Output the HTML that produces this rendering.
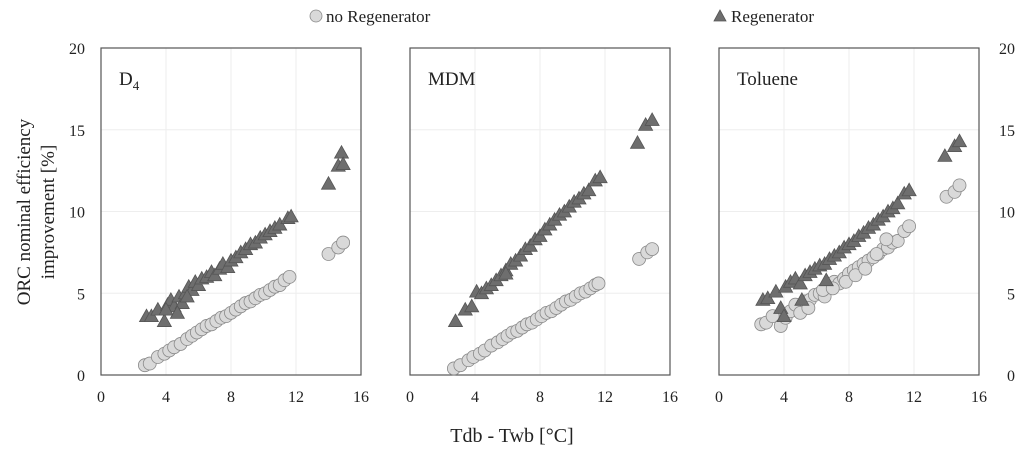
<!DOCTYPE html>
<html><head><meta charset="utf-8">
<style>
body{margin:0;background:#fff;width:1024px;height:450px;overflow:hidden;font-family:"Liberation Serif",serif;position:relative}
svg{display:block}
text{font-family:"Liberation Serif",serif;fill:#222}
</style></head>
<body>
<svg id="chart" width="1024" height="450" viewBox="0 0 1024 450"></svg>
<script>
const xTicks=[0,4,8,12,16];
const yTicks=[0,5,10,15,20];
const panelNames=["D4","MDM","Toluene"];
const d4NoRegX=[2.7,3.0,3.5,3.9,4.2,4.5,4.9,5.3,5.6,5.9,6.2,6.5,6.8,7.1,7.4,7.7,8.0,8.3,8.6,8.9,9.2,9.5,9.8,10.1,10.4,10.7,11.0,11.3,11.6,14.0,14.6,14.9];
const d4NoRegY=[0.6,0.7,1.1,1.3,1.5,1.7,1.9,2.2,2.4,2.6,2.8,3.0,3.1,3.3,3.5,3.6,3.8,4.0,4.2,4.4,4.5,4.7,4.9,5.0,5.2,5.4,5.5,5.8,6.0,7.4,7.8,8.1];
const d4RegX=[2.8,3.1,3.5,3.9,4.1,4.3,4.5,4.8,5.0,5.2,5.4,5.6,5.8,6.0,6.2,6.5,6.8,7.0,7.3,7.5,7.8,8.0,8.3,8.6,8.9,9.2,9.5,9.8,10.1,10.4,10.7,11.0,11.5,11.7,4.0,4.7,5.3,14.0,14.6,14.8,14.9];
const d4RegY=[3.6,3.6,4.0,3.3,4.3,4.6,4.2,4.8,4.4,5.0,5.4,5.2,5.7,5.5,5.9,6.0,6.3,6.1,6.5,6.8,6.6,7.0,7.2,7.5,7.7,8.0,8.1,8.4,8.6,8.8,9.0,9.2,9.6,9.7,4.0,3.8,4.8,11.7,12.8,13.6,12.9];
const mdmNoRegX=[2.7,3.1,3.6,3.9,4.3,4.6,5.0,5.4,5.7,6.0,6.3,6.6,6.9,7.2,7.5,7.8,8.1,8.4,8.7,9.0,9.3,9.6,9.9,10.2,10.5,10.8,11.1,11.4,11.6,14.1,14.6,14.9];
const mdmNoRegY=[0.4,0.6,0.9,1.1,1.3,1.5,1.8,2.0,2.2,2.4,2.6,2.7,2.9,3.1,3.2,3.4,3.6,3.8,3.9,4.1,4.3,4.5,4.6,4.8,5.0,5.1,5.3,5.5,5.6,7.1,7.5,7.7];
const mdmRegX=[2.8,3.4,3.8,4.1,4.4,4.7,5.0,5.3,5.6,5.9,6.2,6.5,6.8,7.1,7.4,7.7,8.0,8.3,8.6,8.9,9.2,9.5,9.8,10.1,10.4,10.7,11.0,11.4,11.7,5.9,14.0,14.5,14.9];
const mdmRegY=[3.3,4.0,4.2,5.1,5.0,5.3,5.5,5.8,6.1,6.4,6.8,7.0,7.3,7.7,7.9,8.3,8.5,8.9,9.2,9.5,9.8,10.0,10.3,10.6,10.8,11.1,11.3,11.9,12.1,6.2,14.2,15.3,15.6];
const tolNoRegX=[2.6,2.9,3.3,3.8,4.1,4.4,4.7,5.0,5.3,5.6,5.9,6.2,6.5,6.8,7.1,7.4,7.7,8.0,8.3,8.6,8.9,9.2,9.5,9.8,10.1,10.4,10.7,11.0,11.4,11.7,5.5,6.4,7.0,7.8,8.4,9.0,9.7,10.3,14.0,14.5,14.8];
const tolNoRegY=[3.1,3.2,3.6,3.0,3.5,3.9,4.3,3.8,4.5,4.6,4.9,5.0,4.8,5.5,5.7,5.6,5.9,6.2,6.4,6.6,6.8,7.0,7.2,7.4,7.7,7.8,8.1,8.2,8.8,9.1,4.1,5.2,5.3,5.7,6.1,6.5,7.4,8.3,10.9,11.2,11.6];
const tolRegX=[2.7,3.0,3.5,3.8,4.1,4.4,4.7,5.0,5.3,5.6,5.9,6.2,6.5,6.8,7.1,7.4,7.7,8.0,8.3,8.6,8.9,9.2,9.5,9.8,10.1,10.4,10.7,11.0,11.4,11.7,4.0,5.1,6.6,13.9,14.5,14.8];
const tolRegY=[4.6,4.7,5.1,4.1,5.4,5.7,5.9,5.6,6.1,6.3,6.5,6.7,6.8,7.1,7.3,7.5,7.8,8.0,8.2,8.5,8.7,9.0,9.2,9.5,9.7,10.0,10.2,10.5,11.1,11.3,3.6,4.6,5.8,13.4,14.0,14.3];
const panelData=[[d4NoRegX,d4NoRegY,d4RegX,d4RegY],[mdmNoRegX,mdmNoRegY,mdmRegX,mdmRegY],[tolNoRegX,tolNoRegY,tolRegX,tolRegY]];

const NS="http://www.w3.org/2000/svg";
const svg=document.getElementById('chart');
function mk(tag,attrs,parent,txt){const e=document.createElementNS(NS,tag);for(const k in attrs)e.setAttribute(k,attrs[k]);if(txt!==undefined)e.textContent=txt;(parent||svg).appendChild(e);return e;}
const lefts=[101,410,719];const W=260,topY=48,botY=375;
function yS(v){return botY-(v/20)*(botY-topY);}
function tri(cx,cy){const s=7;return `${cx},${cy-s} ${cx-s},${cy+5.5} ${cx+s},${cy+5.5}`;}
panelNames.forEach((nm,i)=>{
  const L=lefts[i];const xS=v=>L+(v/16)*W;
  const g=mk('g',{});
  
  
  xTicks.slice(1,4).forEach(t=>{const l=mk('line',{x1:xS(t),x2:xS(t),y1:topY,y2:botY,stroke:'#eee','stroke-width':1},g);});
  yTicks.slice(1,4).forEach(t=>{const l=mk('line',{x1:L,x2:L+W,y1:yS(t),y2:yS(t),stroke:'#eee','stroke-width':1},g);});
  const fr=mk('rect',{x:L,y:topY,width:W,height:botY-topY,fill:'none',stroke:'#555','stroke-width':1.2},g);
  
  xTicks.forEach(t=>{const tx=mk('text',{x:xS(t),y:402,'text-anchor':'middle','font-size':16},g,String(t));});
  const d=panelData[i];
  d[0].forEach((x,j)=>{const c=mk('circle',{cx:xS(x),cy:yS(d[1][j]),r:6.5,fill:'#d9d9d9',stroke:'#8a8a8a','stroke-width':0.8},g);});
  d[2].forEach((x,j)=>{const p=mk('polygon',{points:tri(xS(x),yS(d[3][j])),fill:'#6e6e6e',stroke:'#555','stroke-width':0.8},g);});
  let lab;
  if(nm==="D4"){lab=mk('text',{x:L+18,y:85,'font-size':19},g);const t1=mk('tspan',{},lab,'D');const t2=mk('tspan',{'font-size':13,dy:5},lab,'4');}
  else lab=mk('text',{x:L+18,y:85,'font-size':19},g,nm);
  
});
yTicks.forEach(t=>{
  const a=mk('text',{x:85,y:yS(t)+6,'text-anchor':'end','font-size':16},svg,String(t));
  const b=mk('text',{x:1015,y:yS(t)+6,'text-anchor':'end','font-size':16},svg,String(t));
});
</script>
<svg style="position:absolute;left:0;top:0" width="1024" height="450">
<g>
<circle cx="316" cy="16" r="6" fill="#d9d9d9" stroke="#8a8a8a" stroke-width="0.8"/>
<text x="326" y="22" font-size="17">no Regenerator</text>
<polygon points="720,10 714,21 726,21" fill="#6e6e6e" stroke="#555" stroke-width="0.8"/>
<text x="731" y="22" font-size="17">Regenerator</text>
</g>
<text transform="translate(30,212) rotate(-90)" text-anchor="middle" font-size="19"><tspan x="0" dy="0">ORC nominal efficiency</tspan><tspan x="0" dy="24">improvement [%]</tspan></text>
<text x="512" y="442" text-anchor="middle" font-size="20">Tdb - Twb [°C]</text>
</svg>
</body></html>
